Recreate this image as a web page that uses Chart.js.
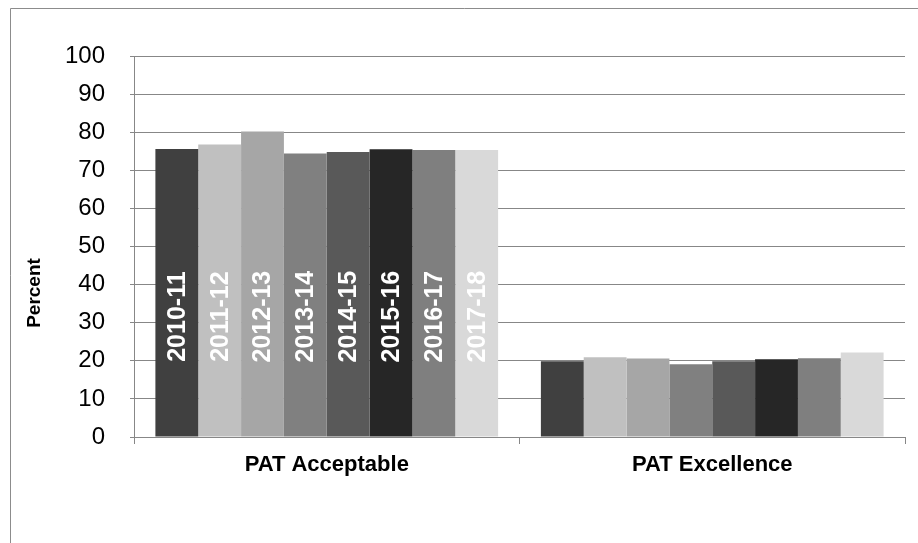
<!DOCTYPE html>
<html>
<head>
<meta charset="utf-8">
<script src="https://cdn.jsdelivr.net/npm/chart.js@4/dist/chart.umd.min.js"></script>
<style>
  html, body { margin: 0; padding: 0; background: #ffffff; }
  #wrap { width: 918px; height: 543px; }
</style>
</head>
<body>
<div id="wrap"><canvas id="c" width="918" height="543"></canvas></div>
<script>
const categories = ["PAT Acceptable", "PAT Excellence"];
const years = ["2010-11", "2011-12", "2012-13", "2013-14", "2014-15", "2015-16", "2016-17", "2017-18"];
const acceptable = [75.6, 76.8, 80.2, 74.4, 74.8, 75.5, 75.3, 75.3];
const excellence = [19.9, 20.9, 20.6, 19.1, 19.9, 20.4, 20.7, 22.2];
const yTicks = [0, 10, 20, 30, 40, 50, 60, 70, 80, 90, 100];
const yAxisTitle = "Percent";

const barColors = ["#404040", "#c0c0c0", "#a6a6a6", "#808080", "#595959", "#262626", "#7f7f7f", "#d9d9d9"];
const FONT = "'Liberation Sans', Arial, sans-serif";

const datasets = years.map((y, i) => ({
  label: y,
  data: [acceptable[i], excellence[i]],
  backgroundColor: barColors[i],
  borderWidth: 0,
  categoryPercentage: 0.889,
  barPercentage: 1.0
}));

const framePlugin = {
  id: 'frame',
  beforeDraw(chart) {
    const ctx = chart.ctx;
    ctx.save();
    ctx.fillStyle = '#ffffff';
    ctx.fillRect(0, 0, chart.width, chart.height);
    ctx.strokeStyle = '#8c8c8c';
    ctx.lineWidth = 1;
    ctx.beginPath();
    ctx.moveTo(10.5, chart.height);
    ctx.lineTo(10.5, 8.5);
    ctx.lineTo(chart.width, 8.5);
    ctx.stroke();
    ctx.restore();
  },
  afterDraw(chart) {
    const ctx = chart.ctx;
    ctx.save();
    ctx.translate(35, 293);
    ctx.rotate(-Math.PI / 2);
    ctx.font = "bold 19px " + FONT;
    ctx.fillStyle = '#000000';
    ctx.textAlign = 'center';
    ctx.textBaseline = 'middle';
    ctx.fillText(yAxisTitle, 0, 0);
    ctx.restore();
  }
};

const barLabelPlugin = {
  id: 'barLabels',
  afterDatasetsDraw(chart) {
    const ctx = chart.ctx;
    const yScale = chart.scales.y;
    ctx.save();
    ctx.font = "bold 25px " + FONT;
    ctx.fillStyle = '#ffffff';
    ctx.textAlign = 'center';
    ctx.textBaseline = 'middle';
    chart.data.datasets.forEach((ds, i) => {
      const meta = chart.getDatasetMeta(i);
      const bar = meta.data[0];
      const yc = yScale.getPixelForValue(31.6);
      ctx.save();
      ctx.translate(bar.x + 1, yc);
      ctx.rotate(-Math.PI / 2);
      ctx.fillText(ds.label, 0, 0);
      ctx.restore();
    });
    ctx.restore();
  }
};

new Chart(document.getElementById('c'), {
  type: 'bar',
  data: { labels: categories, datasets: datasets },
  options: {
    responsive: false,
    devicePixelRatio: 1,
    animation: false,
    layout: { padding: { top: 56, right: 13, left: 0, bottom: 0 } },
    plugins: {
      legend: { display: false },
      tooltip: { enabled: false },
      title: { display: false }
    },
    scales: {
      x: {
        offset: true,
        grid: {
          offset: true,
          drawOnChartArea: false,
          drawTicks: true,
          tickLength: 7,
          color: '#878787',
          lineWidth: 1
        },
        border: { display: true, color: '#878787', width: 1 },
        ticks: {
          color: '#000000',
          font: { family: FONT, size: 22, weight: 'bold' },
          padding: 8,
          maxRotation: 0
        },
        afterFit(scale) { scale.height = 106; }
      },
      y: {
        min: 0,
        max: 100,
        afterBuildTicks(scale) { scale.ticks = yTicks.map(v => ({ value: v })); },
        grid: {
          color: '#878787',
          lineWidth: 1,
          drawTicks: true,
          tickLength: 4
        },
        border: { display: true, color: '#878787', width: 1 },
        ticks: {
          color: '#000000',
          font: { family: FONT, size: 24 },
          padding: 25
        },
        afterFit(scale) { scale.width = 134; }
      }
    }
  },
  plugins: [framePlugin, barLabelPlugin]
});
</script>
</body>
</html>
